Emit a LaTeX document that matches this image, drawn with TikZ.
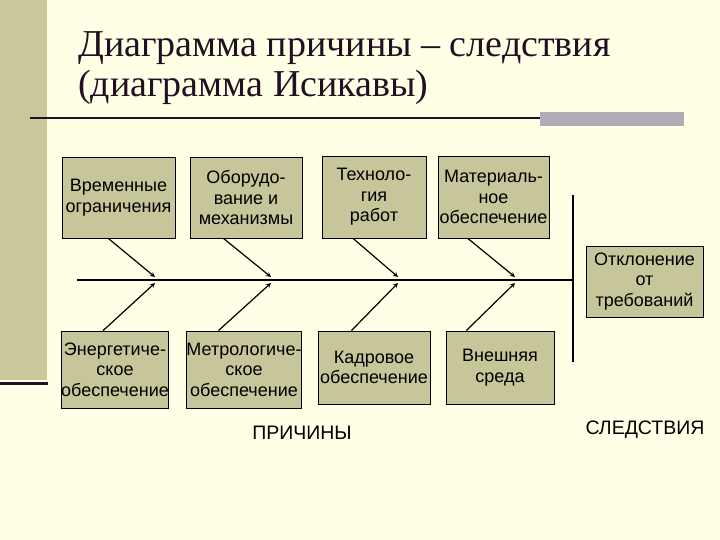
\documentclass[tikz,border=0pt]{standalone}
\usepackage{fontspec}
\setmainfont{Liberation Sans}
\newfontfamily\titlefont{Liberation Serif}
\usepackage{xcolor}
\definecolor{fondo}{RGB}{255,255,229}
\definecolor{oliva}{RGB}{200,200,156}
\definecolor{caja}{RGB}{198,198,154}
\definecolor{grisBarra}{RGB}{178,170,182}
\definecolor{oscuro}{RGB}{34,16,34}
\usepackage{tikz}
\usetikzlibrary{arrows,calc,positioning}
\tikzstyle{causa}=[draw, fill=caja, line width=0.8pt, inner sep=0pt,
                   font=\fontsize{18}{20.5}\selectfont, align=center]
\tikzstyle{edge} =[->, >=stealth, line width=1.2pt]
\tikzstyle{eje}  =[line width=2.8pt]
\tikzstyle{rotulo}=[font=\fontsize{19.5}{22}\selectfont, inner sep=0pt]

\begin{document}
\begin{tikzpicture}[x=1pt,y=-1pt]
    \useasboundingbox (0,0) rectangle (720,540);
    \fill[fondo] (0,0) rectangle (720,540);

    % franja y titulo
    \fill[oliva] (0,0) rectangle (47,380);
    \draw[oscuro, line width=3pt] (0,383) -- (48,383);
    \draw (78,57) node (tit1) [anchor=base west, inner sep=0pt, text=oscuro,
        font=\titlefont\fontsize{38}{40}\selectfont] {Диаграмма причины – следствия};
    \draw (78,97) node (tit2) [anchor=base west, inner sep=0pt, text=oscuro,
        font=\titlefont\fontsize{38}{40}\selectfont] {(диаграмма Исикавы)};
    \fill[grisBarra] (540,112) rectangle (684,126);
    \draw[oscuro, line width=2.2pt] (30,118) -- (540,118);

    % causas de arriba
    \draw (118.5,197.5) node (t1) [causa, minimum width=113pt, minimum height=81pt] {Временные\\ограничения};
    \draw (246,197.5) node (t2) [causa, minimum width=112pt, minimum height=81pt] {Оборудо-\\вание и\\механизмы};
    \draw (374,197) node (t3) [causa, minimum width=104pt, minimum height=82pt] {Техноло-\\гия\\работ};
    \draw (493.5,197) node (t4) [causa, minimum width=111pt, minimum height=82pt] {Материаль-\\ное\\обеспечение};

    % causas de abajo
    \draw (115,369.5) node (b1) [causa, minimum width=106pt, minimum height=77pt] {Энергетиче-\\ское\\обеспечение};
    \draw (244,369.5) node (b2) [causa, minimum width=110pt, minimum height=77pt] {Метрологиче-\\ское\\обеспечение};
    \draw (374,367.5) node (b3) [causa, minimum width=112pt, minimum height=73pt] {Кадровое\\обеспечение};
    \draw (500,367.5) node (b4) [causa, minimum width=108pt, minimum height=73pt] {Внешняя\\среда};

    % efecto
    \draw (644.5,281.5) node (ef) [causa, minimum width=117pt, minimum height=71pt] {Отклонение\\от\\требований};

    % espina
    \coordinate (s0) at (77,280);
    \coordinate (s5) at (573,280);
    \coordinate (v1) at (573,195);
    \coordinate (v2) at (573,362);
    \draw[eje] (s0) -- (s5);
    \draw[eje] (v1) -- (v2);

    \coordinate (a1) at (155,277);
    \coordinate (a2) at (271,277);
    \coordinate (a3) at (398,277);
    \coordinate (a4) at (515,277);
    \coordinate (d1) at (155,283);
    \coordinate (d2) at (271,283);
    \coordinate (d3) at (398,283);
    \coordinate (d4) at (515,283);

    \foreach \i/\f in {1/0.41,2/0.30,3/0.30,4/0.27}
        \draw [edge] ($(t\i.south west)!\f!(t\i.south east)$) -- (a\i);
    \foreach \i/\f in {1/0.39,2/0.28,3/0.30,4/0.19}
        \draw [edge] ($(b\i.north west)!\f!(b\i.north east)$) -- (d\i);

    \draw (302,433) node (pr) [rotulo] {ПРИЧИНЫ};
    \draw (645,430) node (sl) [rotulo] {СЛЕДСТВИЯ};
\end{tikzpicture}
\end{document}
